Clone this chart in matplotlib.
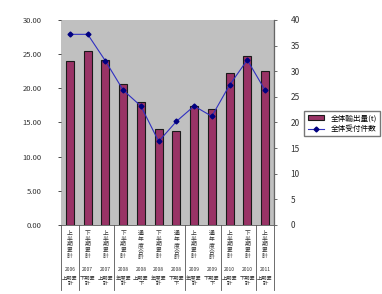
import matplotlib.pyplot as plt
import numpy as np

plt.rcParams['font.family'] = ['Noto Sans CJK JP', 'DejaVu Sans']

# Category labels (three levels, like the Excel multi-level axis)
label_top = ["上半期累計", "下半期累計", "上半期累計", "下半期累計", "通年度合計", "下半期累計",
             "通年度合計", "上半期累計", "通年度合計", "上半期累計", "下半期累計", "上半期累計"]
label_year = ["2006", "2007", "2007", "2008", "2008", "2008",
              "2008", "2009", "2009", "2010", "2010", "2011"]
label_bottom = ["上期累\n計", "下期累\n計", "上期累\n計", "年度累\n計", "上期累\n下", "年度累\n計",
                "下期累\n下", "年度累\n計", "下期累\n下", "上期累\n計", "下期累\n計", "上期累\n計"]
group_sizes = [1, 2, 4, 2, 2, 1]

# Series
export_volume = [24.0, 25.4, 24.2, 20.6, 18.0, 14.0, 13.8, 17.4, 16.9, 22.3, 24.7, 22.5]
accept_count = [37.2, 37.2, 32.0, 26.3, 23.2, 16.3, 20.2, 23.2, 21.2, 27.3, 32.2, 26.3]

fig = plt.figure(figsize=(3.82, 2.94), dpi=100)
ax = fig.add_axes([0.160, 0.235, 0.557, 0.697])
x = np.arange(len(export_volume))

bars = ax.bar(x, export_volume, width=0.45, color='#993366', edgecolor='#1a1a1a',
              linewidth=0.8, zorder=2, label='全体輸出量(t)')
ax.set_xlim(-0.5, len(x) - 0.5)
ax.set_ylim(0, 30)
yt = np.arange(0, 31, 5)
ax.set_yticks(yt)
ax.set_yticklabels([f'{v:.2f}' for v in yt], fontsize=5.5, color='#333333')
ax.tick_params(axis='y', length=2, width=0.5, pad=12)
ax.set_xticks([])
ax.set_facecolor('#c0c0c0')
for s in ['top', 'left']:
    ax.spines[s].set_visible(False)
ax.spines['bottom'].set_color('#555555')
ax.spines['bottom'].set_linewidth(0.6)

ax2 = ax.twinx()
line, = ax2.plot(x, accept_count, color='#3030c0', lw=0.8, marker='D', ms=2.5,
                 mfc='#000080', mec='#000080', label='全体受付件数', zorder=3)
ax2.set_ylim(0, 40)
ax2.set_yticks(np.arange(0, 41, 5))
ax2.tick_params(axis='y', labelsize=6, length=2, width=0.5, pad=10, colors='#333333')
for s in ['top', 'left', 'bottom']:
    ax2.spines[s].set_visible(False)
ax2.spines['right'].set_color('#666666')
ax2.spines['right'].set_linewidth(0.8)

# Multi-level category labels under the axis
tr = ax.get_xaxis_transform()
for i in x:
    ax.text(i, -0.03, '\n'.join(label_top[i]), transform=tr, ha='center', va='top',
            fontsize=4.2, linespacing=1.15, color='#333333')
    ax.text(i, -0.207, label_year[i], transform=tr, ha='center', va='top',
            fontsize=3.6, color='#333333')
    ax.text(i, -0.25, label_bottom[i], transform=tr, ha='center', va='top',
            fontsize=3.8, linespacing=1.0, color='#333333')

bounds = np.concatenate([[0], np.cumsum(group_sizes)]) - 0.5
for b in bounds:
    ax.plot([b, b], [0, -0.32], transform=tr, color='#555555', lw=0.6, clip_on=False)

fig.legend(handles=[bars, line], loc='upper left', bbox_to_anchor=(0.787, 0.635),
           fontsize=5.5, frameon=True, fancybox=False, edgecolor='#555555',
           handlelength=2.2, borderpad=0.4, labelspacing=0.4)

fig.savefig('out.png', dpi=100)
